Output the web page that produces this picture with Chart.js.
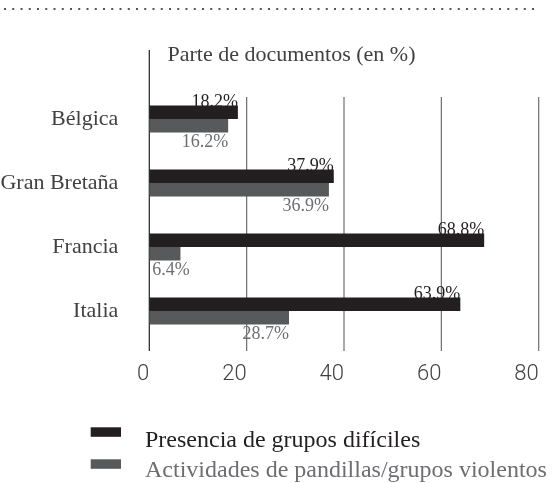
<!DOCTYPE html>
<html><head><meta charset="utf-8">
<script src="https://cdn.jsdelivr.net/npm/chart.js@4.4.1/dist/chart.umd.min.js"></script>
<style>html,body{margin:0;padding:0;background:#fff}#wrap{width:557px;height:483px;position:relative}canvas{display:block}</style>
</head><body><div id="wrap"><canvas id="c" width="557" height="483"></canvas></div>
<script>
const categories = ['Bélgica', 'Gran Bretaña', 'Francia', 'Italia'];
const seriesNames = ['Presencia de grupos difíciles', 'Actividades de pandillas/grupos violentos'];
const presenciaValues = [18.2, 37.9, 68.8, 63.9];
const pandillasValues = [16.2, 36.9, 6.4, 28.7];
const xTickValues = [0, 20, 40, 60, 80];
const axisTitle = 'Parte de documentos (en %)';

const DARK = '#231f20', GRAY = '#58595b', GRAY_TEXT = '#6d6e71', TEXT = '#414042';
const SERIF = '"Liberation Serif", serif';

const decor = {
  id: 'decor',
  beforeDraw(chart) {
    const ctx = chart.ctx;
    ctx.save();
    ctx.fillStyle = '#555';
    for (let x = 4; x <= 536; x += 8.25) ctx.fillRect(x, 8, 2, 2);
    ctx.fillStyle = TEXT;
    ctx.font = '22px ' + SERIF;
    ctx.textAlign = 'left';
    ctx.textBaseline = 'alphabetic';
    ctx.fillText(axisTitle, 167.5, 60.5);
    ctx.restore();
  },
  beforeDatasetsDraw(chart) {
    const ctx = chart.ctx, xs = chart.scales.x;
    ctx.save();
    xTickValues.forEach(v => {
      const px = xs.getPixelForValue(v);
      ctx.beginPath();
      if (v === 0) { ctx.strokeStyle = DARK; ctx.moveTo(px, 50); }
      else { ctx.strokeStyle = '#6d6e71'; ctx.moveTo(px, 97); }
      ctx.lineWidth = 1.2;
      ctx.lineTo(px, 351);
      ctx.stroke();
    });
    ctx.font = '18px ' + SERIF;
    chart.data.datasets.forEach((ds, di) => {
      const meta = chart.getDatasetMeta(di);
      meta.data.forEach((bar, i) => {
        const txt = ds.data[i].toFixed(1) + '%';
        const w = ctx.measureText(txt).width;
        let x = bar.x, align = 'right';
        if (x - w < chart.chartArea.left + 3) { x = chart.chartArea.left + 3; align = 'left'; }
        ctx.textAlign = align;
        ctx.textBaseline = 'alphabetic';
        if (di === 0) {
          ctx.fillStyle = DARK;
          ctx.fillText(txt, x, bar.y - bar.height / 2 + 1);
        } else {
          ctx.fillStyle = GRAY_TEXT;
          ctx.fillText(txt, x, bar.y + bar.height / 2 + 14.6);
        }
      });
    });
    ctx.restore();
  },
  afterDraw(chart) {
    const ctx = chart.ctx;
    ctx.save();
    const rows = [{box: 427.3, base: 446.7}, {box: 459.3, base: 477}];
    chart.data.datasets.forEach((ds, di) => {
      ctx.fillStyle = ds.backgroundColor;
      ctx.fillRect(90.7, rows[di].box, 30.3, 9.5);
      ctx.fillStyle = di === 0 ? DARK : GRAY_TEXT;
      ctx.font = '24px ' + SERIF;
      ctx.textAlign = 'left';
      ctx.textBaseline = 'alphabetic';
      ctx.fillText(ds.label, 145, rows[di].base);
    });
    ctx.restore();
  }
};

new Chart(document.getElementById('c'), {
  type: 'bar',
  data: {
    labels: categories,
    datasets: [
      { label: seriesNames[0], data: presenciaValues, backgroundColor: DARK, categoryPercentage: 0.42, barPercentage: 1 },
      { label: seriesNames[1], data: pandillasValues, backgroundColor: GRAY, categoryPercentage: 0.42, barPercentage: 1 }
    ]
  },
  options: {
    indexAxis: 'y',
    responsive: false,
    animation: false,
    devicePixelRatio: 1,
    layout: { padding: { top: 87, right: 18.3, left: 0, bottom: 0 } },
    plugins: { legend: { display: false }, tooltip: { enabled: false }, title: { display: false } },
    scales: {
      x: {
        min: 0, max: 80,
        afterBuildTicks: s => { s.ticks = xTickValues.map(v => ({ value: v })); },
        grid: { display: false, drawTicks: false },
        border: { display: false },
        ticks: { align: 'end', padding: 18, color: TEXT, font: { family: 'Roboto', weight: 300, size: 22 } },
        afterFit: s => { s.height = 140; }
      },
      y: {
        grid: { display: false, drawTicks: false },
        border: { display: false },
        ticks: { padding: 31, color: TEXT, font: { family: 'Liberation Serif', size: 22 } },
        afterFit: s => { s.width = 149.3; }
      }
    }
  },
  plugins: [decor]
});
</script></body></html>
